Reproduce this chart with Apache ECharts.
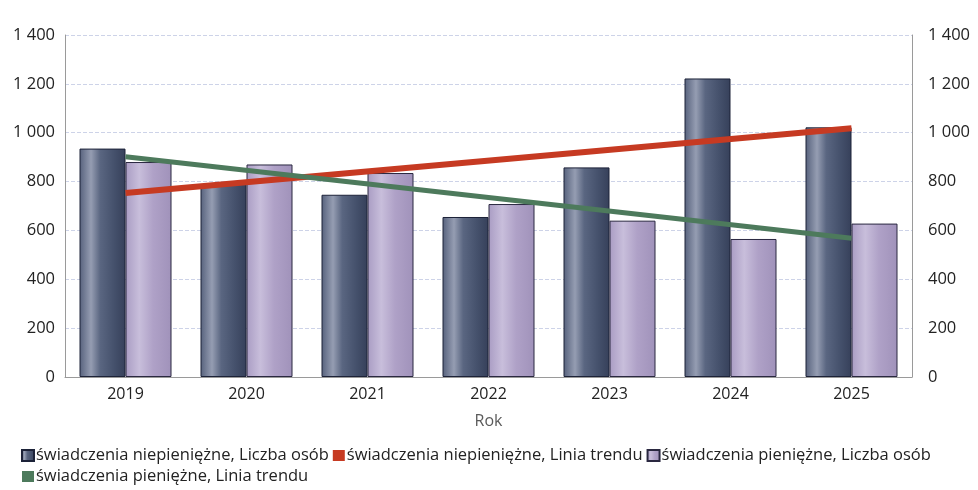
<!DOCTYPE html>
<html>
<head>
<meta charset="utf-8">
<script src="https://cdn.jsdelivr.net/npm/echarts@6/dist/echarts.min.js"></script>
<style>
    html, body { margin: 0; padding: 0; background: #fff; }
    #chart { width: 978px; height: 490px; }
</style>
</head>
<body>
<div id="chart"></div>
<script>
// lata
const years = ['2019', '2020', '2021', '2022', '2023', '2024', '2025'];
// świadczenia niepieniężne, liczba osób
const niepieniezne = [935, 790, 746, 655, 858, 1222, 1022];
// świadczenia pieniężne, liczba osób
const pieniezne = [880, 870, 835, 708, 640, 565, 628];
// linie trendu (początek i koniec)
const trendNiepieniezne = [753, null, null, null, null, null, 1018];
const trendPieniezne = [902, null, null, null, null, null, 568];

const names = [
    'świadczenia niepieniężne, Liczba osób',
    'świadczenia niepieniężne, Linia trendu',
    'świadczenia pieniężne, Liczba osób',
    'świadczenia pieniężne, Linia trendu',
];

const fontFamily = '"Open Sans", "Noto Sans", sans-serif';
const fmt = (v) => String(v).replace(/\B(?=(\d{3})+(?!\d))/g, ' ');

const darkFill = new echarts.graphic.LinearGradient(0, 0, 1, 0, [
    {offset: 0, color: '#56617c'},
    {offset: 0.25, color: '#959db2'},
    {offset: 0.45, color: '#5a6681'},
    {offset: 0.75, color: '#45516c'},
    {offset: 1, color: '#36405a'},
]);
const lightFill = new echarts.graphic.LinearGradient(0, 0, 1, 0, [
    {offset: 0, color: '#a99cc3'},
    {offset: 0.3, color: '#c8bedb'},
    {offset: 0.6, color: '#afa1c7'},
    {offset: 1, color: '#a092ba'},
]);

const chart = echarts.init(document.getElementById('chart'));
chart.setOption({
    animation: false,
    textStyle: {fontFamily: fontFamily},
    grid: {left: 65, right: 66, top: 35, bottom: 113},
    legend: {
        left: 16,
        top: 442,
        width: 950,
        itemWidth: 12,
        itemHeight: 11,
        itemGap: 4,
        icon: 'rect',
        textStyle: {fontSize: 16.5, color: '#222', padding: [0, 0, 0, -3]},
        data: names,
    },
    xAxis: {
        type: 'category',
        data: years,
        name: 'Rok',
        nameLocation: 'middle',
        nameGap: 36,
        nameTextStyle: {fontSize: 16, color: '#5a5a5a'},
        axisLine: {lineStyle: {color: '#9a9a9a'}},
        axisTick: {show: false},
        axisLabel: {fontSize: 16, color: '#222', margin: 9},
    },
    yAxis: [
        {
            type: 'value',
            min: 0,
            max: 1400,
            interval: 200,
            axisLine: {show: true, lineStyle: {color: '#9a9a9a'}},
            axisLabel: {fontSize: 16.5, color: '#222', margin: 10, formatter: fmt},
            splitLine: {lineStyle: {color: '#cdd3e8', type: [4, 2]}},
        },
        {
            type: 'value',
            min: 0,
            max: 1400,
            interval: 200,
            position: 'right',
            axisLine: {show: true, lineStyle: {color: '#9a9a9a'}},
            axisLabel: {fontSize: 16.5, color: '#222', margin: 16, formatter: fmt},
            splitLine: {show: false},
        },
    ],
    series: [
        {
            name: names[0],
            type: 'bar',
            data: niepieniezne,
            barWidth: 46,
            barGap: '0%',
            itemStyle: {color: darkFill, borderColor: '#1c2238', borderWidth: 1},
        },
        {
            name: names[1],
            type: 'line',
            data: trendNiepieniezne,
            connectNulls: true,
            symbol: 'none',
            z: 5,
            itemStyle: {color: '#c63a22'},
            lineStyle: {color: '#c63a22', width: 6},
        },
        {
            name: names[2],
            type: 'bar',
            data: pieniezne,
            barWidth: 46,
            barGap: '0%',
            itemStyle: {color: lightFill, borderColor: '#2a2840', borderWidth: 1},
        },
        {
            name: names[3],
            type: 'line',
            data: trendPieniezne,
            connectNulls: true,
            symbol: 'none',
            z: 5,
            itemStyle: {color: '#4d7a5c'},
            lineStyle: {color: '#4d7a5c', width: 5},
        },
    ],
});
</script>
</body>
</html>
